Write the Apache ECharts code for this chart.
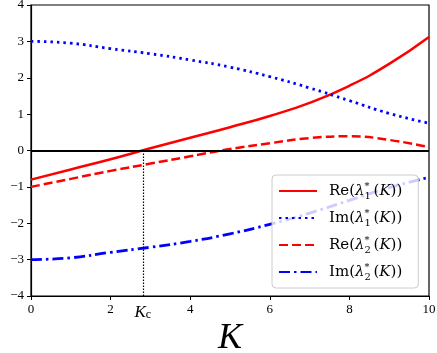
<!DOCTYPE html>
<html>
<head>
<meta charset="utf-8">
<script src="https://cdn.jsdelivr.net/npm/echarts@6/dist/echarts.min.js"></script>
<style>
html,body{margin:0;padding:0;background:#fff;}
#main{width:437px;height:353px;}
</style>
</head>
<body>
<div id="main"></div>
<script>
var kValues = [0, 1, 2, 3, 4, 5, 6, 7, 8, 9, 10];
var re1 = [-0.80, -0.52, -0.24, 0.06, 0.35, 0.64, 0.95, 1.31, 1.78, 2.38, 3.12];
var im1 = [3.00, 2.95, 2.80, 2.66, 2.49, 2.29, 2.03, 1.72, 1.37, 1.02, 0.75];
var re2 = [-1.00, -0.78, -0.56, -0.36, -0.16, 0.04, 0.20, 0.34, 0.39, 0.29, 0.09];
var im2 = [-3.00, -2.95, -2.80, -2.66, -2.50, -2.29, -2.03, -1.72, -1.37, -1.02, -0.74];
var Kc = 2.81;
var seriesNames = ['Re1', 'Im1', 'Re2', 'Im2'];

var serif = "'DejaVu Serif', 'Liberation Serif', serif";
var serif2 = "'Liberation Serif', 'DejaVu Serif', serif";

function pairs(ys) {
    return kValues.map(function (k, i) { return [k, ys[i]]; });
}

var legendText = {
    Re1: '{n|Re(}{l|λ}{p|*}{b|1}{n|(}{l|K}{n|))}',
    Im1: '{n|Im(}{l|λ}{p|*}{b|1}{n|(}{l|K}{n|))}',
    Re2: '{n|Re(}{l|λ}{p|*}{b|2}{n|(}{l|K}{n|))}',
    Im2: '{n|Im(}{l|λ}{p|*}{b|2}{n|(}{l|K}{n|))}'
};

var myChart = echarts.init(document.getElementById('main'));
var option = {
    animation: false,
    backgroundColor: '#fff',
    grid: {
        left: 31,
        right: 8,
        top: 5,
        bottom: 57,
        show: true,
        borderColor: '#000',
        borderWidth: 1.2,
        outerBoundsMode: 'none',
        containLabel: false
    },
    legend: {
        orient: 'vertical',
        left: 272,
        top: 175,
        padding: [6, 16, 6, 6],
        itemWidth: 38,
        itemHeight: 12,
        itemGap: 7,
        backgroundColor: 'rgba(255,255,255,0.8)',
        borderColor: '#cccccc',
        borderWidth: 1,
        borderRadius: 4,
        itemStyle: {opacity: 0},
        data: seriesNames,
        formatter: function (name) { return '{g|}' + legendText[name]; },
        textStyle: {
            lineHeight: 20,
            rich: {
                g: {width: 7},
                n: {fontFamily: serif, fontSize: 15, color: '#000'},
                l: {fontFamily: serif, fontSize: 15, fontStyle: 'italic', color: '#000'},
                p: {fontFamily: serif, fontSize: 10, color: '#000', verticalAlign: 'top', width: 0},
                b: {fontFamily: serif, fontSize: 10, color: '#000', verticalAlign: 'bottom', width: 9}
            }
        }
    },
    xAxis: [
        {
            type: 'value',
            min: 0,
            max: 10,
            interval: 2,
            name: 'K',
            nameLocation: 'middle',
            nameGap: 22,
            nameTextStyle: {fontFamily: serif2, fontSize: 36, fontStyle: 'italic', color: '#000'},
            splitLine: {show: false},
            axisLine: {show: true, onZero: false, lineStyle: {color: '#000', width: 1.2}},
            axisTick: {show: true, length: 4, lineStyle: {color: '#000'}},
            axisLabel: {fontFamily: serif2, fontSize: 13, color: '#000', margin: 7}
        },
        {
            type: 'value',
            position: 'bottom',
            min: 0,
            max: 10,
            axisLine: {show: false},
            axisTick: {show: false},
            splitLine: {show: false},
            axisLabel: {
                customValues: [Kc],
                margin: 8,
                formatter: function () { return '{k|K}{c|c}'; },
                rich: {
                    k: {fontFamily: serif2, fontSize: 17, fontStyle: 'italic', color: '#000'},
                    c: {fontFamily: serif2, fontSize: 12, color: '#000', verticalAlign: 'bottom', padding: [5, 0, 0, 0]}
                }
            }
        }
    ],
    yAxis: {
        type: 'value',
        min: -4,
        max: 4,
        interval: 1,
        splitLine: {show: false},
        axisLine: {show: true, onZero: false, lineStyle: {color: '#000', width: 1.2}},
        axisTick: {show: true, length: 4, lineStyle: {color: '#000'}},
        axisLabel: {
            fontFamily: serif2, fontSize: 13, color: '#000', margin: 7,
            formatter: function (v) { return String(v).replace('-', '\u2212'); }
        }
    },
    series: [
        {
            name: 'Re1',
            type: 'line',
            smooth: true,
            symbol: 'none',
            data: pairs(re1),
            lineStyle: {color: '#ff0000', width: 2.5, type: 'solid'},
            itemStyle: {color: '#ff0000'},
            markLine: {
                silent: true,
                symbol: 'none',
                label: {show: false},
                data: [
                    {yAxis: 0, lineStyle: {color: '#000', width: 2.2, type: 'solid'}},
                    [{coord: [Kc, -4]}, {coord: [Kc, 0], lineStyle: {color: '#000', width: 1.2, type: [1.5, 1.5]}}]
                ]
            }
        },
        {
            name: 'Im1',
            type: 'line',
            smooth: true,
            symbol: 'none',
            data: pairs(im1),
            lineStyle: {color: '#0000ff', width: 2.8, type: [2.5, 4]},
            itemStyle: {color: '#0000ff'}
        },
        {
            name: 'Re2',
            type: 'line',
            smooth: true,
            symbol: 'none',
            data: pairs(re2),
            lineStyle: {color: '#ff0000', width: 2.5, type: [9, 4]},
            itemStyle: {color: '#ff0000'}
        },
        {
            name: 'Im2',
            type: 'line',
            smooth: true,
            symbol: 'none',
            data: pairs(im2),
            lineStyle: {color: '#0000ff', width: 2.8, type: [11, 4, 2.5, 4]},
            itemStyle: {color: '#0000ff'}
        }
    ]
};
myChart.setOption(option);
</script>
</body>
</html>
